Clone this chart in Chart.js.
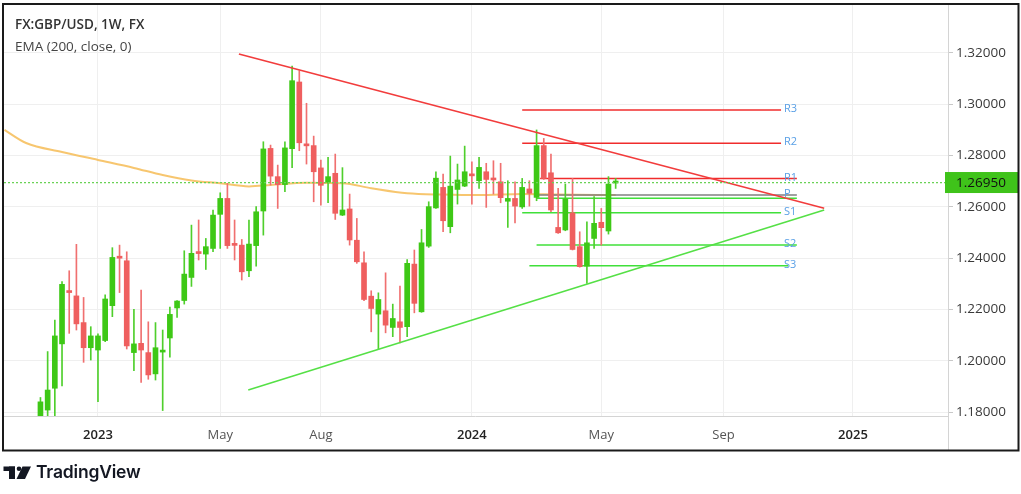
<!DOCTYPE html>
<html><head><meta charset="utf-8">
<script src="https://cdn.jsdelivr.net/npm/chart.js@4.4.1/dist/chart.umd.min.js"></script>
<style>
html,body{margin:0;padding:0;background:#fff;}
#wrap{position:relative;width:1021px;height:494px;overflow:hidden;background:#fff;}
canvas{position:absolute;left:0;top:0;}
.t1{position:absolute;left:15px;top:15px;font:600 13.5px 'Open Sans',sans-serif;color:#333;white-space:nowrap;}
.t2{position:absolute;left:15px;top:37px;font:400 13.5px 'Open Sans',sans-serif;color:#444;white-space:nowrap;}
.logo{position:absolute;left:36px;top:461px;font:600 17.5px 'Inter',sans-serif;color:#131722;white-space:nowrap;letter-spacing:-0.2px;}
</style></head>
<body><div id="wrap"><canvas id="c" width="1021" height="494"></canvas>
<div class="t1">FX:GBP/USD, 1W, FX</div>
<div class="t2">EMA (200, close, 0)</div>
<div class="logo">TradingView</div></div>
<script>
// Weekly candles; week index 0 = week of 2 Jan 2023, first candle = week of 7 Nov 2022
const FIRST_WEEK = -8;
const opens  = [1.1400,1.1808,1.1893,1.2066,1.2270,1.2253,1.2149,1.2051,1.2042,1.2079,
                1.2215,1.2405,1.2390,1.2032,1.2068,1.2032,1.1949,1.2034,1.2089,1.2206,
                1.2235,1.2325,1.2424,1.2416,1.2438,1.2571,1.2633,1.2454,1.2451,1.2351,
                1.2449,1.2584,1.2828,1.2718,1.2687,1.2827,1.3087,1.2843,1.2839,1.2752,
                1.2696,1.2731,1.2568,1.2592,1.2470,1.2382,1.2252,1.2182,1.2195,1.2130,
                1.2152,1.2133,1.2377,1.2191,1.2447,1.2596,1.2676,1.2523,1.2668,1.2681,
                1.2727,1.2702,1.2737,1.2710,1.2698,1.2622,1.2633,1.2600,1.2670,1.2637,
                1.2839,1.2733,1.2520,1.2510,1.2577,1.2445,1.2369,1.2477,1.2540,1.2506,1.2693];
const highs  = [1.1857,1.2036,1.2159,1.2309,1.2351,1.2454,1.2247,1.2133,1.2105,1.2257,
                1.2441,1.2451,1.2425,1.2201,1.2276,1.2152,1.2149,1.2120,1.2209,1.2235,
                1.2429,1.2529,1.2549,1.2477,1.2588,1.2655,1.2692,1.2549,1.2473,1.2549,
                1.2601,1.2854,1.2841,1.2763,1.2854,1.3149,1.3131,1.3004,1.2876,1.2783,
                1.2793,1.2806,1.2753,1.2650,1.2555,1.2425,1.2273,1.2265,1.2343,1.2221,
                1.2291,1.2395,1.2432,1.2512,1.2620,1.2737,1.2728,1.2798,1.2767,1.2837,
                1.2776,1.2793,1.2770,1.2780,1.2770,1.2702,1.2698,1.2711,1.2702,1.2900,
                1.2867,1.2806,1.2672,1.2689,1.2711,1.2503,1.2542,1.2640,1.2594,1.2718,1.2711];
const lows   = [1.1350,1.1710,1.1780,1.1902,1.2107,1.2120,1.1994,1.2003,1.1841,1.2075,
                1.2172,1.2266,1.2046,1.1962,1.1916,1.1928,1.1925,1.1806,1.2014,1.2169,
                1.2221,1.2290,1.2393,1.2356,1.2425,1.2438,1.2438,1.2393,1.2315,1.2328,
                1.2369,1.2490,1.2685,1.2594,1.2659,1.2753,1.2819,1.2767,1.2620,1.2607,
                1.2616,1.2551,1.2566,1.2451,1.2380,1.2234,1.2113,1.2044,1.2109,1.2094,
                1.2070,1.2094,1.2187,1.2189,1.2442,1.2594,1.2503,1.2499,1.2611,1.2679,
                1.2611,1.2672,1.2598,1.2650,1.2616,1.2520,1.2538,1.2594,1.2603,1.2624,
                1.2707,1.2581,1.2497,1.2507,1.2432,1.2365,1.2302,1.2438,1.2451,1.2494,1.2672];
const closes = [1.1840,1.1886,1.2097,1.2298,1.2266,1.2144,1.2051,1.2097,1.2097,1.2241,
                1.2403,1.2400,1.2058,1.2066,1.2042,1.1945,1.2051,1.2038,1.2181,1.2233,
                1.2338,1.2419,1.2418,1.2445,1.2568,1.2633,1.2449,1.2450,1.2347,1.2455,
                1.2581,1.2826,1.2720,1.2687,1.2830,1.3092,1.2850,1.2838,1.2737,1.2684,
                1.2718,1.2575,1.2588,1.2471,1.2386,1.2239,1.2204,1.2239,1.2139,1.2165,
                1.2130,1.2380,1.2224,1.2460,1.2601,1.2712,1.2546,1.2681,1.2705,1.2737,
                1.2721,1.2754,1.2707,1.2705,1.2636,1.2633,1.2603,1.2676,1.2653,1.2839,
                1.2711,1.2588,1.2499,1.2631,1.2434,1.2367,1.2460,1.2536,1.2519,1.2689,1.2697];

// EMA(200) read at selected weeks
const emaWeeks  = [-13, -10, -5, 0, 5, 9, 13, 17, 21, 24, 29, 34, 38, 43, 48, 53, 59, 64, 72];
const emaValues = [1.2900,1.2849,1.2814,1.2783,1.2752,1.2724,1.2703,1.2692,1.2680,1.2685,
                   1.2694,1.2692,1.2673,1.2653,1.2648,1.2646,1.2650,1.2648,1.2646];

// Trend lines (week, price)
const resistWeeks = [19.6, 101];  const resistPrices = [1.3196, 1.2595];
const supportWeeks = [20.9, 101]; const supportPrices = [1.1886, 1.2588];

// Pivot levels
const pivotNames  = ['R3','R2','R1','P','S1','S2','S3'];
const pivotValues = [1.2978, 1.2848, 1.2711, 1.2646, 1.2577, 1.2451, 1.2371];
const pivotStart  = [59, 59, 61.5, 61, 59, 61, 60];
const pivotEnd    = [95, 95, 97.2, 97.2, 95, 97.2, 96];
const extraLevel = 1.2634, extraStart = 61, extraEnd = 97.2;

const lastPrice = 1.2695;

const xTickWeeks  = [0, 17, 31, 52, 70, 87, 105];
const xTickLabels = ['2023','May','Aug','2024','May','Sep','2025'];
const yTicks = [1.18,1.20,1.22,1.24,1.26,1.28,1.30,1.32];

const X_MIN = -13.07, X_MAX = 118.22, Y_MIN = 1.17848, Y_MAX = 1.33871;

const GREEN = '#3ec816', RED = '#ef5f5f';
const idx = opens.map((_, i) => FIRST_WEEK + i);
const isUp = i => closes[i] >= opens[i];

const pivotColor = n => n[0] === 'R' ? '#f02c2c' : (n[0] === 'S' ? '#40e03a' : '#808080');

const datasets = [];
datasets.push({type:'line', label:'EMA', data: emaWeeks.map((w,i)=>({x:w,y:emaValues[i]})),
  borderColor:'rgba(246,192,95,0.9)', borderWidth:2, pointRadius:0, cubicInterpolationMode:'monotone', order:8});
pivotNames.forEach((n,i)=>{
  datasets.push({type:'line', label:n, data:[{x:pivotStart[i],y:pivotValues[i]},{x:pivotEnd[i],y:pivotValues[i]}],
    borderColor:pivotColor(n), borderWidth:1.5, pointRadius:0, order:6});
});
datasets.push({type:'line', label:'level', data:[{x:extraStart,y:extraLevel},{x:extraEnd,y:extraLevel}],
  borderColor:'#40e03a', borderWidth:1.5, pointRadius:0, order:6});
datasets.push({type:'bar', label:'wicks', data: idx.map((w,i)=>({x:w, y:[lows[i], highs[i]]})),
  backgroundColor: idx.map((w,i)=> isUp(i) ? '#4fcf2c' : '#f07070'),
  barThickness:1, grouped:false, borderWidth:0, order:5});
datasets.push({type:'bar', label:'bodies', data: idx.map((w,i)=>({x:w, y:[Math.min(opens[i],closes[i]), Math.max(opens[i],closes[i])]})),
  backgroundColor: idx.map((w,i)=> isUp(i) ? GREEN : RED),
  barThickness:5, minBarLength:2, grouped:false, borderWidth:0, order:4});
datasets.push({type:'line', label:'resistance', data: resistWeeks.map((w,i)=>({x:w,y:resistPrices[i]})),
  borderColor:'#f23c3c', borderWidth:1.6, pointRadius:0, order:2});
datasets.push({type:'line', label:'support', data: supportWeeks.map((w,i)=>({x:w,y:supportPrices[i]})),
  borderColor:'#55e046', borderWidth:1.6, pointRadius:0, order:2});
datasets.push({type:'line', label:'last', data:[{x:X_MIN,y:lastPrice},{x:X_MAX,y:lastPrice}],
  borderColor:'#6ad256', borderWidth:1.3, borderDash:[2,2], pointRadius:0, order:1});

const deco = {
  id:'deco',
  beforeDraw(chart){
    const c = chart.ctx; c.save(); c.fillStyle='#fff'; c.fillRect(0,0,chart.width,chart.height); c.restore();
  },
  afterDatasetsDraw(chart){
    const c = chart.ctx, xs = chart.scales.x, ys = chart.scales.y;
    c.save();
    c.font = "11px 'Open Sans', sans-serif";
    c.fillStyle = '#5aa0e6';
    c.textBaseline = 'middle'; c.textAlign = 'left';
    pivotNames.forEach((n,i)=>{
      const x = xs.getPixelForValue(95) + 3;
      const y = ys.getPixelForValue(pivotValues[i]) - 1;
      c.fillText(n, x, y);
    });
    c.restore();
  },
  afterDraw(chart){
    const c = chart.ctx, ys = chart.scales.y, a = chart.chartArea;
    c.save();
    // dividers
    c.strokeStyle = '#d4d4d4'; c.lineWidth = 1;
    c.beginPath(); c.moveTo(a.right+0.5, 4); c.lineTo(a.right+0.5, 451);
    c.moveTo(3, a.bottom+0.5); c.lineTo(a.right, a.bottom+0.5); c.stroke();
    // last price label
    const py = ys.getPixelForValue(lastPrice);
    c.fillStyle = '#3fc31a';
    c.fillRect(945, py-10.5, 73, 21);
    c.fillStyle = '#111';
    c.font = "13.5px 'Open Sans', sans-serif";
    c.textBaseline = 'middle'; c.textAlign='left';
    c.fillText(lastPrice.toFixed(5), 956, py+0.5);
    // frame
    c.strokeStyle = '#1a1a1a'; c.lineWidth = 2;
    c.strokeRect(3, 4, 1015.5, 446.5);
    // logo mark
    c.fillStyle = '#131722';
    c.fillRect(3.5, 466.5, 11.5, 4.5);
    c.fillRect(9, 466.5, 6, 12.5);
    c.beginPath(); c.arc(19, 468.8, 2.3, 0, Math.PI*2); c.fill();
    c.beginPath(); c.moveTo(22.5,466.5); c.lineTo(31,466.5); c.lineTo(25,479); c.lineTo(16.5,479); c.closePath(); c.fill();
    c.restore();
  }
};

new Chart(document.getElementById('c'), {
  type:'bar',
  data:{datasets},
  options:{
    responsive:false, animation:false, devicePixelRatio:1, events:[],
    layout:{padding:{left:4, top:5, right:2, bottom:43}},
    plugins:{legend:{display:false}, tooltip:{enabled:false}, title:{display:false}},
    scales:{
      x:{type:'linear', min:X_MIN, max:X_MAX, offset:false,
        grid:{offset:false, color:'#efefef', drawTicks:false},
        border:{display:false},
        afterBuildTicks: s => { s.ticks = xTickWeeks.map(v=>({value:v})); },
        afterFit: s => { s.height = 35; s.paddingLeft = 0; s.paddingRight = 0; },
        ticks:{autoSkip:false, maxRotation:0, padding:11,
          callback: v => xTickLabels[xTickWeeks.indexOf(v)],
          color: ctx => { const l = xTickLabels[xTickWeeks.indexOf(ctx.tick && ctx.tick.value)]; return /^\d{4}$/.test(l||'') ? '#222' : '#555'; },
          font: ctx => { const l = xTickLabels[xTickWeeks.indexOf(ctx.tick && ctx.tick.value)]; return {family:"'Open Sans', sans-serif", size:13, weight: /^\d{4}$/.test(l||'') ? '600' : '400'}; }
        }
      },
      y:{type:'linear', position:'right', min:Y_MIN, max:Y_MAX,
        grid:{color:'#efefef', tickLength:5, tickColor:'#c8c8c8'},
        border:{display:false},
        afterBuildTicks: s => { s.ticks = yTicks.map(v=>({value:v})); },
        afterFit: s => { s.width = 71; s.paddingTop = 0; s.paddingBottom = 0; },
        ticks:{autoSkip:false, padding:3, color:'#3a3a3a',
          font:{family:"'Open Sans', sans-serif", size:13.5},
          callback: v => Number(v).toFixed(5)}
      }
    }
  },
  plugins:[deco]
});
</script>
</body></html>
